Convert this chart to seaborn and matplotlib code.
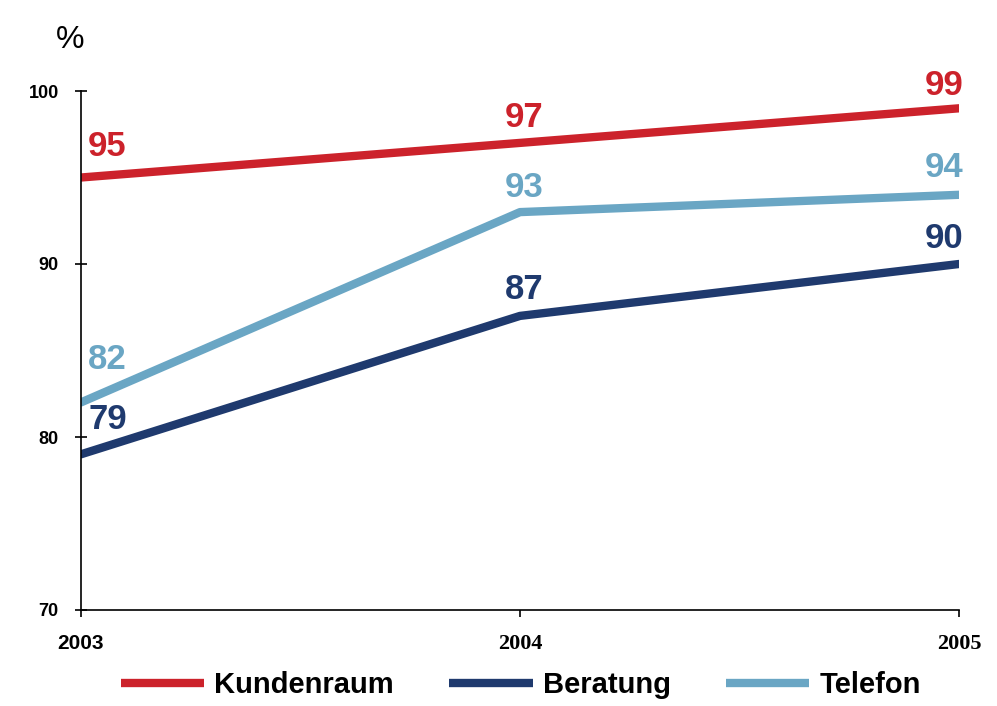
import pandas as pd
import matplotlib
matplotlib.use("Agg")
import matplotlib.pyplot as plt
from matplotlib.font_manager import FontProperties
import seaborn as sns

# values
years = [2003, 2004, 2005]
kundenraum = [95, 97, 99]
beratung = [79, 87, 90]
telefon = [82, 93, 94]
series_names = ["Kundenraum", "Beratung", "Telefon"]
y_ticks = [70, 80, 90, 100]

colors = {"Kundenraum": "#cc222b", "Beratung": "#1f3a6e", "Telefon": "#6aa6c4"}

# label offsets in points (layout only), label centre relative to the point
label_offsets = {
    "Kundenraum": [(19, 22), (3, 18), (-11, 16.5)],
    "Beratung": [(19, 25), (3, 19), (-11, 18.5)],
    "Telefon": [(19, 31), (3, 18), (-11, 20)],
}

df = pd.DataFrame({
    "Jahr": years * 3,
    "Wert": kundenraum + beratung + telefon,
    "Serie": [s for s in series_names for _ in years],
})

sns.set_style("white")
plt.rcParams["font.family"] = ["Liberation Sans", "DejaVu Sans"]
plt.rcParams["text.color"] = "black"
plt.rcParams["xtick.color"] = "black"
plt.rcParams["ytick.color"] = "black"

fig = plt.figure(figsize=(9.97, 7.06), dpi=100)
ax = fig.add_axes([81 / 997, 1 - 610 / 706, (959 - 81) / 997, (610 - 91) / 706])

sns.lineplot(data=df, x="Jahr", y="Wert", hue="Serie", hue_order=series_names,
             palette=colors, linewidth=6, ax=ax, legend=False)

ax.set_xlim(years[0], years[-1])
ax.set_ylim(y_ticks[0], y_ticks[-1])
ax.set_xticks(years)
ax.set_yticks(y_ticks)
ax.set_xlabel("")
ax.set_ylabel("")

for side in ["top", "right"]:
    ax.spines[side].set_visible(False)
for side in ["left", "bottom"]:
    ax.spines[side].set_color("black")
    ax.spines[side].set_linewidth(1.2)

ax.tick_params(axis="y", direction="inout", length=8, width=1.2, pad=12,
               labelsize=13, left=True)
ax.tick_params(axis="x", direction="out", length=5, width=1.2, pad=12,
               labelsize=15, bottom=True)
for lab in ax.get_yticklabels():
    lab.set_fontweight("bold")

# 2003 is in a sans face, 2004 / 2005 in a serif face in the original
x_fonts = [FontProperties(family="Liberation Sans", weight="bold", size=15),
           FontProperties(family="Liberation Serif", weight="bold", size=16),
           FontProperties(family="Liberation Serif", weight="bold", size=16)]
for lab, fp in zip(ax.get_xticklabels(), x_fonts):
    lab.set_fontproperties(fp)

# data labels
for name, vals in zip(series_names, [kundenraum, beratung, telefon]):
    for x, v, off in zip(years, vals, label_offsets[name]):
        ax.annotate(str(v), (x, v), xytext=off, textcoords="offset points",
                    ha="center", va="center", fontsize=25, fontweight="bold",
                    color=colors[name])

fig.text(70 / 997, 1 - 40 / 706, "%", fontsize=23, ha="center", va="center")

handles = [plt.Line2D([], [], color=colors[n], linewidth=6, solid_capstyle="butt")
           for n in series_names]
fig.legend(handles, series_names, loc="center", ncol=3,
           bbox_to_anchor=(521 / 997, 1 - 685 / 706), frameon=False,
           prop={"size": 21, "weight": "bold"}, handlelength=2.85,
           handletextpad=0.35, columnspacing=1.9, borderaxespad=0)

fig.savefig("out.png", dpi=100)
